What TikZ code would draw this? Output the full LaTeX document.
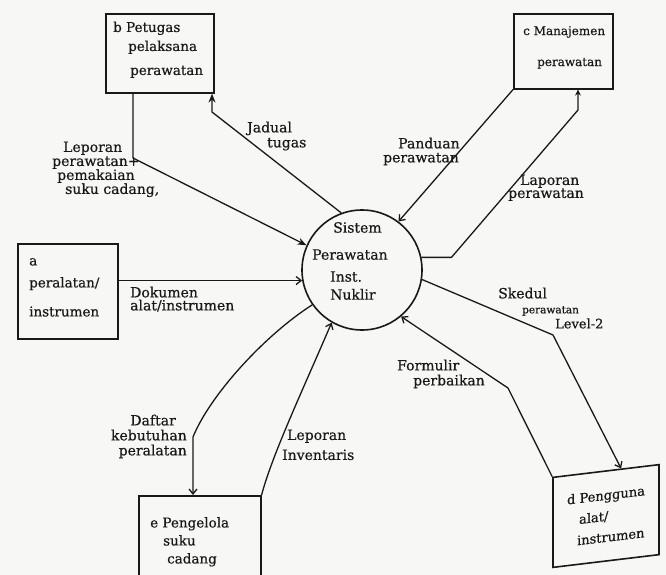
\documentclass[tikz,border=0pt]{standalone}
\usepackage{fontspec}
\setmainfont{DejaVu Serif}[FakeBold=0.5]
\usetikzlibrary{arrows.meta,calc}
\definecolor{ink}{RGB}{25,25,25}
\definecolor{paper}{RGB}{247,247,245}
\tikzset{
  box/.style={draw=ink, line width=1.6pt, inner sep=0pt},
  flow/.style={draw=ink, line width=1.3pt},
  fa/.style={-{Stealth[length=9pt,width=7pt]}},
  sa/.style={-{Stealth[length=6pt,width=6pt]}},
  oa/.style={-{Straight Barb[length=5pt,width=8pt]}},
  lbl/.style={inner sep=0pt, align=left, anchor=north west, text=ink,
    font=\fontsize{14}{14}\selectfont},
  btxt/.style={inner sep=0pt, align=left, anchor=north west, text=ink,
    font=\fontsize{13.5}{19}\selectfont}
}
\begin{document}
\begin{tikzpicture}[x=1pt,y=-1pt]
\useasboundingbox[fill=paper] (0,0) rectangle (666,575);

% external entities
\node[box, anchor=north west, minimum width=108pt, minimum height=79pt] (b) at (105,13) {};
\node[btxt] (bt) at (113,21.5) {b Petugas\\\hspace*{15pt}pelaksana\\[5pt]\hspace*{17pt}perawatan};

\node[box, anchor=north west, minimum width=99pt, minimum height=75pt] (c) at (513,13) {};
\node[btxt, font=\fontsize{12}{31}\selectfont] (ct) at (523,26) {c Manajemen\\\hspace*{14pt}perawatan};

\node[box, anchor=north west, minimum width=100pt, minimum height=95pt] (a) at (17,243) {};
\node[btxt, font=\fontsize{13.5}{22}\selectfont] (at) at (29,258) {a\\peralatan/\\[7pt]instrumen};

\node[box, anchor=north west, minimum width=122pt, minimum height=100pt] (e) at (138,495) {};
\node[btxt, font=\fontsize{13.5}{18}\selectfont] (et) at (150,517) {e Pengelola\\\hspace*{13pt}suku\\\hspace*{17pt}cadang};

\node[box, minimum width=106pt, minimum height=90pt, yslant=0.12, align=left,
  text=ink, font=\fontsize{13}{21}\selectfont] (d) at (606,516)
  {d Pengguna\\\hspace*{12pt}alat/\\\hspace*{10pt}instrumen};

% process
\node[draw=ink, line width=1.6pt, circle, minimum size=120pt, inner sep=0pt] (sys) at (362,270) {};
\node[btxt, font=\fontsize{14}{22}\selectfont] (st) at (312,222)
  {\hspace*{21pt}Sistem\\[5pt]Perawatan\\\hspace*{18pt}Inst.\\[-4pt]\hspace*{18pt}Nuklir};

% flows
\coordinate (k1) at (133,158);
\draw[flow, fa] (k1 |- b.south) -- (k1) -- (sys.156);
\node[lbl] (l1) at (52,141.5) {\hspace*{11pt}Leporan\\perawatan+\\\hspace*{5pt}pemakaian\\\hspace*{13pt}suku cadang,};

\coordinate (k2) at (212,112);
\draw[flow, fa] (sys.110) -- (k2) -- (k2 |- b.south);
\node[lbl, font=\fontsize{14}{15}\selectfont] (l2) at (247,121.5) {Jadual\\\hspace*{20pt}tugas};

\draw[flow, oa] (c.south west) -- (sys.53);
\node[lbl] (l3) at (383,137.5) {\hspace*{15pt}Panduan\\perawatan};

\coordinate (k4) at (578,110);
\draw[flow, sa] (sys.12) -- ++(30,0) -- (k4) -- (k4 |- c.south);
\node[lbl, font=\fontsize{14}{13}\selectfont] (l4) at (508,174.5) {\hspace*{12pt}Laporan\\perawatan};

\draw[flow, oa] (sys.190 -| a.east) -- (sys.190);
\node[lbl, font=\fontsize{14}{13}\selectfont] (l5) at (130,286.5) {Dokumen\\alat/instrumen};

\coordinate (k6) at (553,335);
\draw[flow, oa] (sys.-9) -- (k6) -- ($(d.north)!0.28!(d.north east)$);
\node[lbl, font=\fontsize{14}{15}\selectfont] (l6) at (498,287.5)
  {Skedul\\\hspace*{24pt}{\fontsize{10.5}{15}\selectfont perawatan}\\\hspace*{57pt}{\fontsize{13}{15}\selectfont Level-2}};

\coordinate (k7) at (508,388);
\draw[flow, oa] (d.north west) -- (k7) -- (sys.-50);
\node[lbl, font=\fontsize{14}{15}\selectfont] (l7) at (397,359.5) {Formulir\\\hspace*{16pt}perbaikan};

\coordinate (k8) at (193,437);
\draw[flow, oa] (sys.215) .. controls (265,335) and (210,395) .. (k8) -- (k8 |- e.north);
\node[lbl, align=right, anchor=north east, font=\fontsize{14}{15}\selectfont] (l8) at (187,414.5)
  {Daftar\hspace*{11pt}\\kebutuhan\\peralatan};

\draw[flow, oa] (e.north east) .. controls (272,455) and (305,385) .. (sys.240);
\node[lbl, font=\fontsize{14}{20}\selectfont] (l9) at (282,429.5) {\hspace*{5pt}Leporan\\Inventaris};
\end{tikzpicture}
\end{document}
